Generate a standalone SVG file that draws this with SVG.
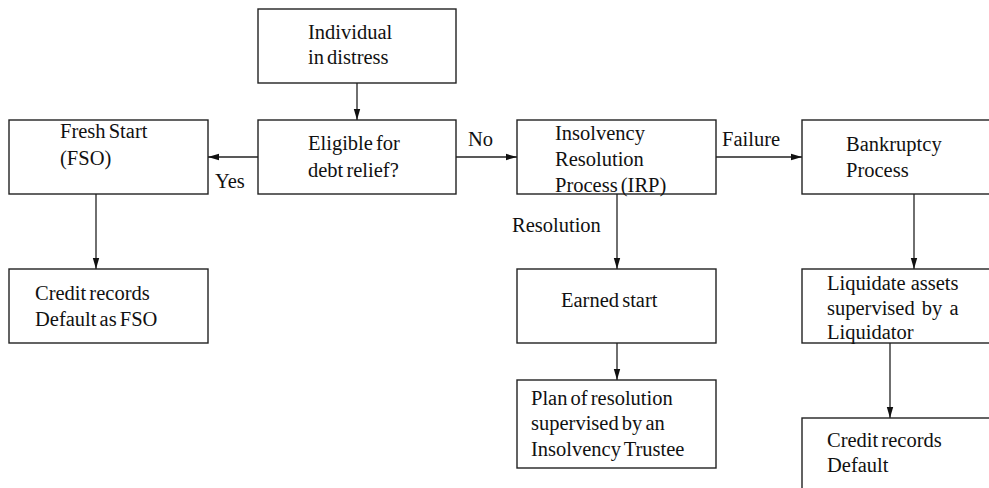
<svg xmlns="http://www.w3.org/2000/svg" width="989" height="488" viewBox="0 0 989 488">
<style>
.box{fill:#fff;stroke:#222;stroke-width:1.4}
text{font-family:'Liberation Serif','DejaVu Serif',serif;font-size:20.5px;fill:#111;word-spacing:-2px}
.c line{stroke:#222;stroke-width:1.3}
</style>
<defs>
<marker id="ah" markerWidth="11" markerHeight="8" refX="11" refY="4" orient="auto" markerUnits="userSpaceOnUse">
<path d="M0,0.8 L11,4 L0,7.2 Z" fill="#111"/>
</marker>
</defs>
<rect width="989" height="488" fill="#fff"/>
<g font-family="Liberation Serif, DejaVu Serif, serif">
<g class="c" id="connectors">
<line x1="357" y1="83" x2="357" y2="120" marker-end="url(#ah)"/>
<line x1="258" y1="157" x2="208" y2="157" marker-end="url(#ah)"/>
<line x1="456" y1="157" x2="517" y2="157" marker-end="url(#ah)"/>
<line x1="716" y1="157" x2="802" y2="157" marker-end="url(#ah)"/>
<line x1="96" y1="194" x2="96" y2="269" marker-end="url(#ah)"/>
<line x1="617" y1="194" x2="617" y2="269" marker-end="url(#ah)"/>
<line x1="914" y1="194" x2="914" y2="269" marker-end="url(#ah)"/>
<line x1="617" y1="343" x2="617" y2="380" marker-end="url(#ah)"/>
<line x1="890" y1="343" x2="890" y2="418" marker-end="url(#ah)"/>
<text x="468" y="146">No</text>
<text x="215" y="188">Yes</text>
<text x="722" y="146">Failure</text>
<text x="512" y="232">Resolution</text>
</g>
<g id="individual"><rect class="box" x="258" y="9" width="198" height="74"/><text x="308" y="39">Individual</text><text x="308" y="64">in distress</text></g>
<g id="eligible"><rect class="box" x="258" y="120" width="198" height="74"/><text x="308" y="150">Eligible for</text><text x="308" y="177">debt relief?</text></g>
<g id="fresh"><rect class="box" x="9" y="120" width="199" height="74"/><text x="60" y="138">Fresh Start</text><text x="60" y="165">(FSO)</text></g>
<g id="irp"><rect class="box" x="517" y="120" width="199" height="74"/><text x="555" y="140">Insolvency</text><text x="555" y="166">Resolution</text><text x="555" y="192">Process (IRP)</text></g>
<g id="bankruptcy"><rect class="box" x="802" y="120" width="200" height="74"/><text x="846" y="151">Bankruptcy</text><text x="846" y="177">Process</text></g>
<g id="credit-fso"><rect class="box" x="9" y="269" width="199" height="74"/><text x="35" y="300">Credit records</text><text x="35" y="326">Default as FSO</text></g>
<g id="earned"><rect class="box" x="517" y="269" width="199" height="74"/><text x="561" y="307">Earned start</text></g>
<g id="plan"><rect class="box" x="517" y="380" width="199" height="88"/><text x="531" y="405">Plan of resolution</text><text x="531" y="430">supervised by an</text><text x="531" y="456">Insolvency Trustee</text></g>
<g id="liquidate"><rect class="box" x="802" y="269" width="200" height="74"/><text x="827" y="290" style="word-spacing:0">Liquidate assets</text><text x="827" y="315" style="word-spacing:2px">supervised by a</text><text x="827" y="339">Liquidator</text></g>
<g id="credit-default"><rect class="box" x="802" y="418" width="200" height="90"/><text x="827" y="447">Credit records</text><text x="827" y="472">Default</text></g>
</g>
</svg>
